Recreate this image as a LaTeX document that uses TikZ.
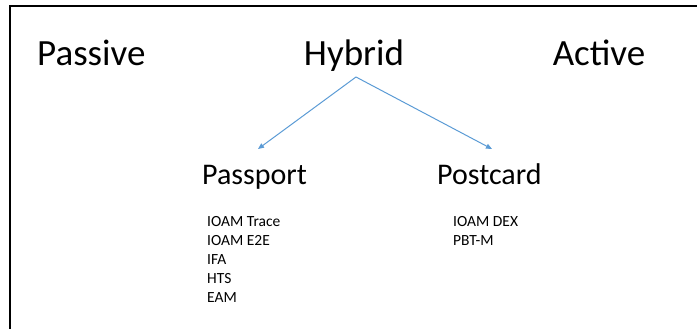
\documentclass[tikz,border=0pt]{standalone}
\usepackage{fontspec}
\setmainfont{Carlito}
\usetikzlibrary{arrows.meta}
\definecolor{arrowblue}{HTML}{5B9BD5}
\tikzset{
  bigword/.style={inner sep=0pt, font=\fontsize{37}{40}\selectfont},
  midword/.style={inner sep=0pt, font=\fontsize{30}{34}\selectfont},
  smallword/.style={inner sep=0pt, anchor=base west, font=\fontsize{15.5}{18}\selectfont},
  link/.style={draw=arrowblue, line width=1pt, -{Triangle[length=6pt,width=5pt]}}
}
\begin{document}
\begin{tikzpicture}[x=1pt,y=1pt]
\useasboundingbox (0,0) rectangle (697,-329);
\draw[line width=2pt] (10,-329) -- (10,-6) -- (697,-6);
\node[bigword, anchor=base west] (passive) at (37,-66) {Passive};
\node[bigword, anchor=base] (hybrid) at (354,-66) {Hybrid};
\node[bigword, anchor=base] (active) at (599,-66) {Active};
\node[midword, anchor=base west] (passport) at (202,-184) {Passport};
\node[midword, anchor=base west] (postcard) at (437,-184) {Postcard};
\coordinate (apex) at (356,-77);
\coordinate (lefttip) at (258,-149);
\coordinate (righttip) at (492,-149);
\draw[link] (apex) -- (lefttip);
\draw[link] (apex) -- (righttip);
\node[smallword] (p1) at (207,-226) {IOAM Trace};
\node[smallword] (p2) at (207,-245.2) {IOAM E2E};
\node[smallword] (p3) at (207,-264.4) {IFA};
\node[smallword] (p4) at (207,-283.6) {HTS};
\node[smallword] (p5) at (207,-302.8) {EAM};
\node[smallword] (q1) at (453,-226) {IOAM DEX};
\node[smallword] (q2) at (453,-245.2) {PBT-M};
\end{tikzpicture}
\end{document}
